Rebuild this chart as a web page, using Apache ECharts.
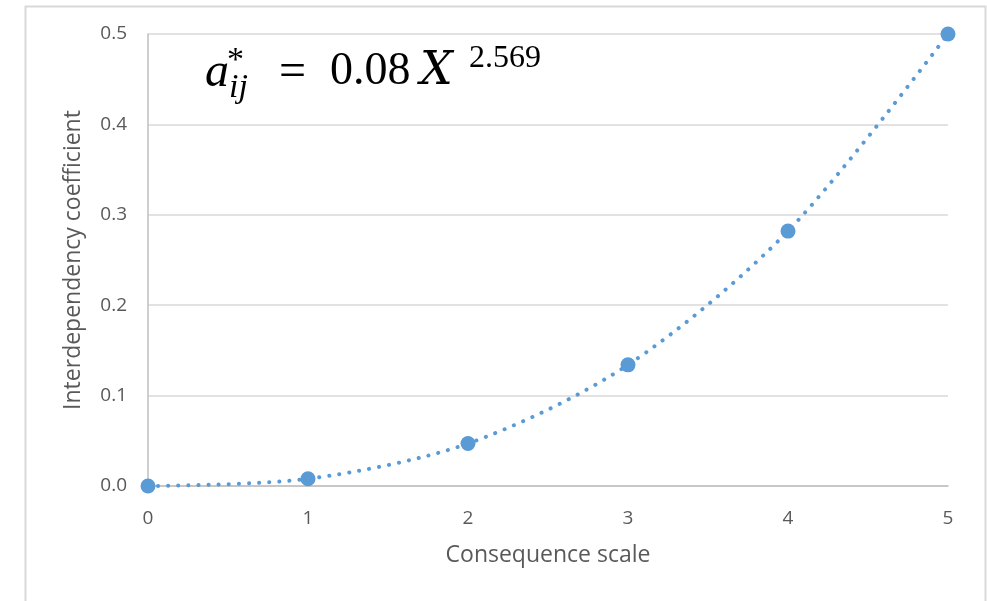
<!DOCTYPE html>
<html>
<head>
<meta charset="utf-8">
<script src="https://cdn.jsdelivr.net/npm/echarts@6/dist/echarts.min.js"></script>
<style>html,body{margin:0;padding:0;background:#fff;}#c{width:987px;height:601px;}</style>
</head>
<body>
<div id="c"></div>
<script>
var xValues = [0, 1, 2, 3, 4, 5];
var yValues = [0, 0.008, 0.047, 0.134, 0.282, 0.5];
var xTicks = [0, 1, 2, 3, 4, 5];
var yTicks = [0.0, 0.1, 0.2, 0.3, 0.4, 0.5];
var xName = 'Consequence scale';
var yName = 'Interdependency coefficient';

var pts = xValues.map(function (x, i) { return [x, yValues[i]]; });
var chart = echarts.init(document.getElementById('c'), null, { renderer: 'canvas' });
var font = 'Open Sans, Liberation Sans, sans-serif';
var serif = 'Liberation Serif, DejaVu Serif, serif';
chart.setOption({
  animation: false,
  backgroundColor: '#ffffff',
  grid: { left: 148, right: 39, top: 34, bottom: 115, containLabel: false },
  xAxis: {
    type: 'value', min: xTicks[0], max: xTicks[xTicks.length - 1], interval: 1,
    name: xName, nameLocation: 'middle', nameGap: 58,
    nameTextStyle: { color: '#595959', fontSize: 23, fontFamily: font },
    axisLine: { show: true, onZero: false, lineStyle: { color: '#bfbfbf', width: 1.5 } },
    axisTick: { show: false },
    splitLine: { show: false },
    axisLabel: { color: '#595959', fontSize: 19, fontFamily: font, margin: 23 }
  },
  yAxis: {
    type: 'value', min: yTicks[0], max: yTicks[yTicks.length - 1], interval: 0.1,
    name: yName, nameLocation: 'middle', nameGap: 63, nameRotate: 90,
    nameTextStyle: { color: '#595959', fontSize: 23, fontFamily: font },
    axisLine: { show: true, lineStyle: { color: '#bfbfbf', width: 1.5 } },
    axisTick: { show: false },
    splitLine: { show: true, lineStyle: { color: '#d9d9d9', width: 1.5 } },
    axisLabel: { color: '#595959', fontSize: 19, fontFamily: font, margin: 21,
      formatter: function (v) { return v.toFixed(1); } }
  },
  series: [{
    type: 'line',
    data: pts,
    smooth: 0.3,
    symbol: 'circle',
    symbolSize: 15,
    itemStyle: { color: '#5b9bd5' },
    lineStyle: { color: '#5b9bd5', width: 4, type: [0.1, 10], cap: 'round' },
    z: 3
  }],
  graphic: [
    { type: 'rect', left: 23, top: 4, shape: { width: 960, height: 640 },
      style: { fill: 'none', stroke: '#d9d9d9', lineWidth: 2 }, silent: true },
    { type: 'text', left: 205, top: 49, style: { text: 'a', font: 'italic 48px ' + serif, fill: '#000' } },
    { type: 'text', left: 227, top: 44, style: { text: '*', font: '34px ' + serif, fill: '#000' } },
    { type: 'text', left: 229, top: 71, style: { text: 'ij', font: 'italic 34px ' + serif, fill: '#000' } },
    { type: 'text', left: 279, top: 49, style: { text: '=', font: '48px ' + serif, fill: '#000' } },
    { type: 'text', left: 330, top: 49, style: { text: '0.08', font: '46px ' + serif, fill: '#000' } },
    { type: 'text', left: 420, top: 49, style: { text: 'X', font: 'italic 46px DejaVu Serif, serif', fill: '#000' } },
    { type: 'text', left: 469, top: 43, style: { text: '2.569', font: '32px ' + serif, fill: '#000' } }
  ]
});
</script>
</body>
</html>
